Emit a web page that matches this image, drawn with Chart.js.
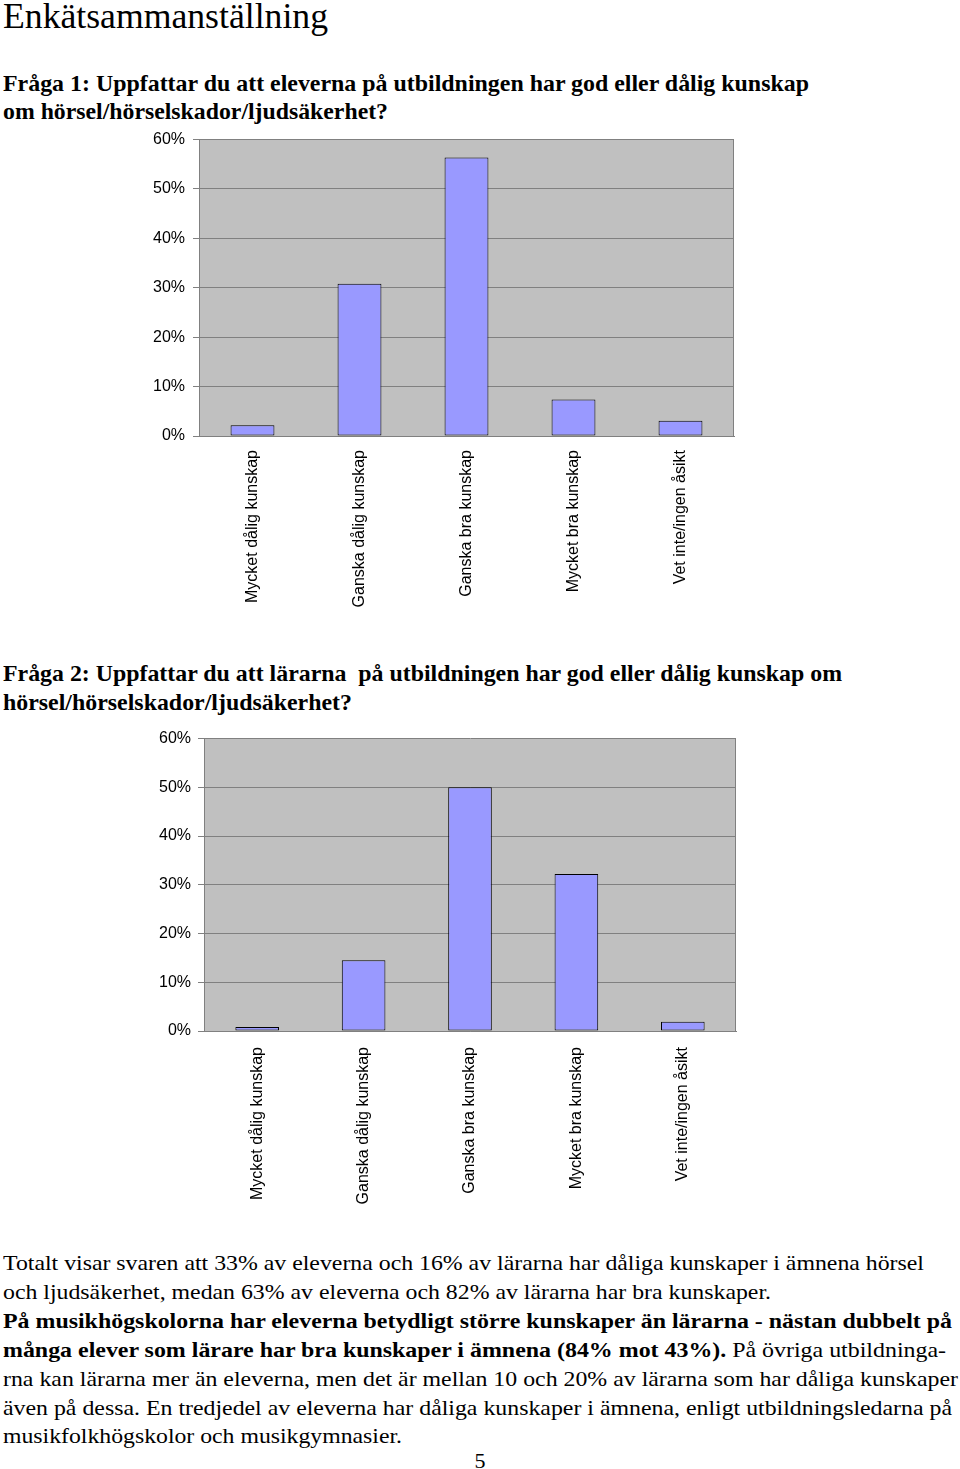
<!DOCTYPE html>
<html lang="sv">
<head>
<meta charset="utf-8">
<title>Enkätsammanställning</title>
<script src="https://cdn.jsdelivr.net/npm/chart.js@4.4.1/dist/chart.umd.min.js"></script>
<style>
    html, body { margin: 0; padding: 0; background: #fff; }
    body { position: relative; width: 960px; height: 1469px; overflow: hidden; font-family: 'Liberation Serif', 'Times New Roman', serif; color: #000; }
    .ln { position: absolute; left: 3px; white-space: pre; line-height: 1; transform-origin: 0 0; }
    .title { font-size: 36px; }
    .q { font-size: 23px; font-weight: bold; }
    .txt { font-size: 22px; }
    .txt b { font-weight: bold; }
    canvas { position: absolute; }
    #page { position: absolute; left: 0; width: 960px; text-align: center; font-size: 22px; line-height: 1; }
</style>
</head>
<body>
    <div class="ln title" data-base="28" data-w="325">Enkätsammanställning</div>

    <div class="ln q" data-base="91" data-w="806">Fråga 1: Uppfattar du att eleverna på utbildningen har god eller dålig kunskap</div>
    <div class="ln q" data-base="119" data-w="385">om hörsel/hörselskador/ljudsäkerhet?</div>

    <canvas id="chart1" width="600" height="507" style="left:140px;top:122px;"></canvas>

    <div class="ln q" data-base="681" data-w="839">Fråga 2: Uppfattar du att lärarna  på utbildningen har god eller dålig kunskap om</div>
    <div class="ln q" data-base="710" data-w="349">hörsel/hörselskador/ljudsäkerhet?</div>

    <canvas id="chart2" width="610" height="506" style="left:140px;top:722px;"></canvas>

    <div class="ln txt" data-base="1270" data-w="921">Totalt visar svaren att 33% av eleverna och 16% av lärarna har dåliga kunskaper i ämnena hörsel</div>
    <div class="ln txt" data-base="1299" data-w="768">och ljudsäkerhet, medan 63% av eleverna och 82% av lärarna har bra kunskaper.</div>
    <div class="ln txt" data-base="1328" data-w="949"><b>På musikhögskolorna har eleverna betydligt större kunskaper än lärarna - nästan dubbelt på</b></div>
    <div class="ln txt" data-base="1357" data-w="943"><b>många elever som lärare har bra kunskaper i ämnena (84% mot 43%).</b> På övriga utbildninga-</div>
    <div class="ln txt" data-base="1386" data-w="955">rna kan lärarna mer än eleverna, men det är mellan 10 och 20% av lärarna som har dåliga kunskaper</div>
    <div class="ln txt" data-base="1415" data-w="949">även på dessa. En tredjedel av eleverna har dåliga kunskaper i ämnena, enligt utbildningsledarna på</div>
    <div class="ln txt" data-base="1443" data-w="399">musikfolkhögskolor och musikgymnasier.</div>
    <div id="page" style="top:1450px;">5</div>

<script>
(function (window) {
    'use strict';

    // svarsalternativ (samma för båda frågorna)
    const categories = [
        'Mycket dålig kunskap',
        'Ganska dålig kunskap',
        'Ganska bra kunskap',
        'Mycket bra kunskap',
        'Vet inte/ingen åsikt',
    ];

    // andel svar i procent, avläst ur diagrammen
    const elevernaValues = [2.2, 30.8, 56.4, 7.4, 3.1];
    const lararnaValues = [0.8, 14.5, 50, 32.2, 1.9];

    const yTicks = [0, 10, 20, 30, 40, 50, 60];

    const BAR_FILL = '#9999FF';
    const PLOT_BG = '#C0C0C0';
    const GRID = '#808080';

    // placera varje textrad på sin baslinje och pressa ihop den till rätt bredd
    function fitLines() {
        document.querySelectorAll('.ln').forEach(function (el) {
            const size = parseFloat(getComputedStyle(el).fontSize);
            const base = parseFloat(el.dataset.base);
            el.style.top = (base - size * 0.8375) + 'px';
            const target = parseFloat(el.dataset.w);
            const actual = el.getBoundingClientRect().width;
            if (target && actual) {
                el.style.transform = 'scaleX(' + (target / actual) + ')';
            }
        });
    }

    const plotBackground = {
        id: 'plotBackground',
        beforeDraw: function (chart) {
            const { ctx, chartArea: a } = chart;
            ctx.save();
            ctx.fillStyle = PLOT_BG;
            ctx.fillRect(a.left, a.top, a.right - a.left, a.bottom - a.top);
            ctx.restore();
        },
        beforeDatasetsDraw: function (chart) {
            const { ctx, chartArea: a } = chart;
            ctx.save();
            ctx.strokeStyle = GRID;
            ctx.lineWidth = 1;
            ctx.beginPath();
            ctx.moveTo(a.right - 0.5, a.top);
            ctx.lineTo(a.right - 0.5, a.bottom);
            ctx.stroke();
            ctx.restore();
        },
    };

    function barChart(canvas, values, layout) {
        if (!canvas || !window.Chart) {
            return null;
        }

        return new Chart(canvas, {
            type: 'bar',
            data: {
                labels: categories,
                datasets: [{
                    data: values,
                    backgroundColor: BAR_FILL,
                    borderColor: '#000',
                    borderWidth: 1,
                    borderSkipped: false,
                    barPercentage: 0.41,
                    categoryPercentage: 1,
                }],
            },
            options: {
                responsive: false,
                animation: false,
                layout: { padding: { top: 3, right: layout.right, bottom: 0, left: 0 } },
                plugins: {
                    legend: { display: false },
                    tooltip: { enabled: false },
                },
                scales: {
                    x: {
                        grid: { display: false, drawTicks: false },
                        border: { display: true, color: GRID, width: 1 },
                        ticks: {
                            minRotation: 90,
                            maxRotation: 90,
                            padding: layout.xPad,
                            color: '#000',
                            font: { family: "'Liberation Sans', Arial, sans-serif", size: 16 },
                        },
                        afterFit: function (scale) {
                            scale.height = layout.xHeight;
                        },
                    },
                    y: {
                        min: 0,
                        max: 60,
                        afterBuildTicks: function (scale) {
                            scale.ticks = yTicks.map(function (v) { return { value: v }; });
                        },
                        grid: { color: GRID, lineWidth: 1, tickLength: 6, tickColor: GRID },
                        border: { display: true, color: GRID, width: 1 },
                        ticks: {
                            padding: layout.yPad,
                            color: '#000',
                            font: { family: "'Liberation Sans', Arial, sans-serif", size: 16 },
                            callback: function (v) { return v + '%'; },
                        },
                        afterFit: function (scale) {
                            scale.width = layout.yWidth;
                        },
                    },
                },
            },
            plugins: [plotBackground],
        });
    }

    fitLines();

    barChart(document.getElementById('chart1'), elevernaValues,
        { right: 6, yWidth: 59, xHeight: 193, xPad: 14, yPad: 8 });
    barChart(document.getElementById('chart2'), lararnaValues,
        { right: 14, yWidth: 64, xHeight: 197, xPad: 16, yPad: 7 });
})(window);
</script>
</body>
</html>
